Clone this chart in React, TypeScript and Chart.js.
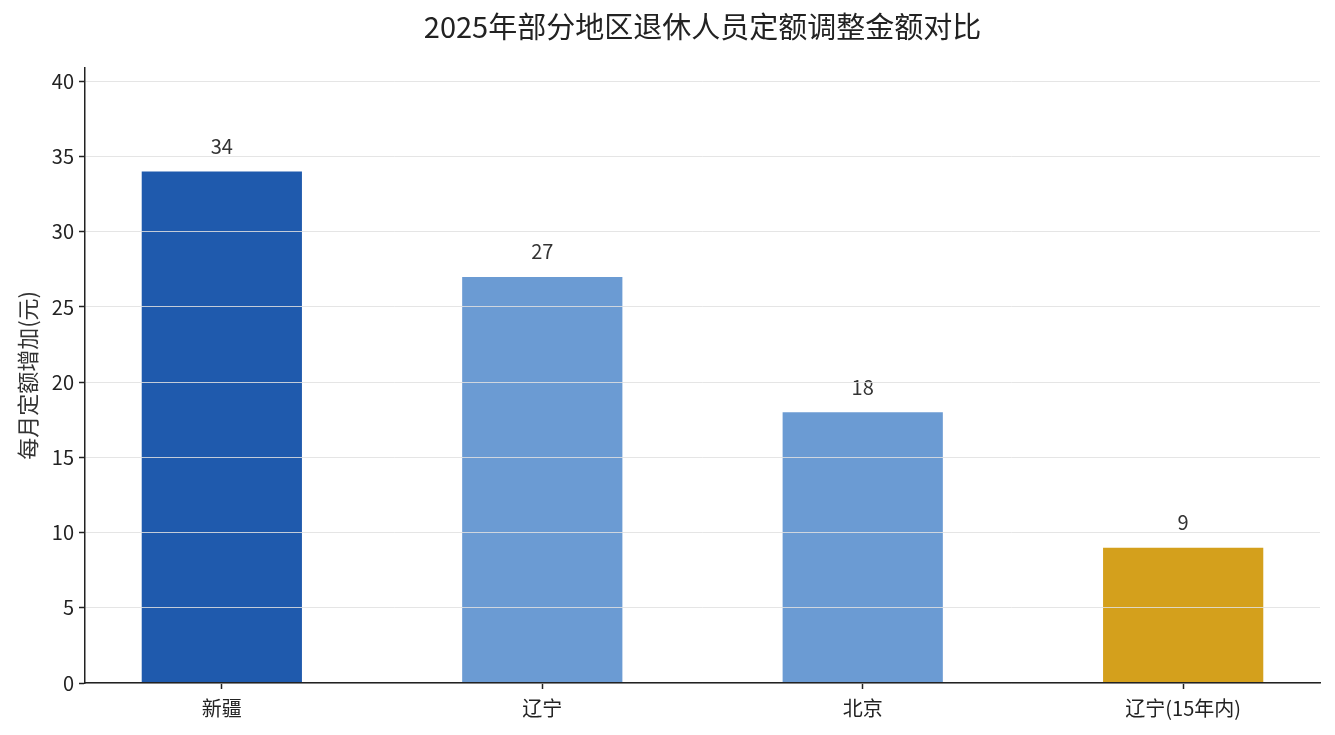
import { useEffect, useRef } from 'react'
import { Chart, registerables } from 'chart.js'

Chart.register(...registerables)

const regions = ['新疆', '辽宁', '北京', '辽宁(15年内)']
const increases = [34, 27, 18, 9]
const barColors = ['#1f5aad', '#6b9bd3', '#6b9bd3', '#d4a01c']
const yTicks = [0, 5, 10, 15, 20, 25, 30, 35, 40]

const FONT = "'Noto Sans CJK SC', 'Noto Sans', sans-serif"

// value labels above each bar
const valueLabels = {
  id: 'valueLabels',
  afterDatasetsDraw(chart: Chart) {
    const ctx = chart.ctx
    const meta = chart.getDatasetMeta(0)
    ctx.save()
    ctx.font = `20px ${FONT}`
    ctx.fillStyle = '#333'
    ctx.textAlign = 'center'
    ctx.textBaseline = 'middle'
    meta.data.forEach((bar: any, i: number) => {
      ctx.fillText(String(increases[i]), bar.x, bar.y - 25)
    })
    ctx.restore()
  },
}

export default function App() {
  const canvasRef = useRef<HTMLCanvasElement | null>(null)
  const chartRef = useRef<Chart | null>(null)

  useEffect(() => {
    const ctx = canvasRef.current?.getContext('2d')
    if (!ctx) return

    chartRef.current = new Chart(ctx, {
      type: 'bar',
      data: {
        datasets: [
          {
            data: increases.map((v, i) => ({ x: i, y: v })),
            backgroundColor: barColors,
            borderWidth: 0,
            barPercentage: 0.5,
            categoryPercentage: 1,
          },
        ],
      },
      options: {
        responsive: false,
        animation: false,
        layout: { padding: { left: 0, right: 15, top: 0, bottom: 0 } },
        plugins: {
          legend: { display: false },
          tooltip: { enabled: false },
          title: {
            display: true,
            fullSize: false,
            text: '2025年部分地区退休人员定额调整金额对比',
            color: '#222',
            font: { family: FONT, size: 29, weight: 'normal' },
            padding: { top: 10, bottom: 23 },
          },
        },
        scales: {
          x: {
            type: 'linear',
            min: -0.427,
            max: 3.427,
            offset: false,
            afterBuildTicks: (axis: any) => {
              axis.ticks = regions.map((_, i) => ({ value: i }))
            },
            afterFit: (scale: any) => {
              scale.height = 52
            },
            ticks: {
              color: '#222',
              font: { family: FONT, size: 20 },
              padding: 7,
              maxRotation: 0,
              callback: (v: any) => regions[v] ?? '',
            },
            grid: {
              display: true,
              offset: false,
              drawOnChartArea: false,
              drawTicks: true,
              tickLength: 6,
              tickColor: '#222',
              tickWidth: 1.5,
            },
            border: { color: '#222', width: 1.5, z: 2 },
          },
          y: {
            min: 0,
            max: 40.9,
            afterBuildTicks: (axis: any) => {
              axis.ticks = yTicks.map((v) => ({ value: v }))
            },
            afterFit: (scale: any) => {
              scale.width = 85
            },
            ticks: {
              color: '#222',
              font: { family: FONT, size: 20 },
              padding: 5,
            },
            grid: {
              z: 1,
              color: 'rgba(225,225,225,0.85)',
              lineWidth: 1,
              drawTicks: true,
              tickLength: 6,
              tickColor: '#222',
              tickWidth: 1.5,
            },
            border: { color: '#222', width: 1.5, z: 2 },
            title: {
              display: true,
              text: '每月定额增加(元)',
              color: '#333',
              font: { family: FONT, size: 22 },
              padding: { top: 14, bottom: 0 },
            },
          },
        },
      },
      plugins: [valueLabels],
    } as any)

    return () => {
      chartRef.current?.destroy()
      chartRef.current = null
    }
  }, [])

  return (
    <div style={{ position: 'fixed', left: 0, top: 0, width: 1335, height: 735, background: '#fff' }}>
      <canvas ref={canvasRef} width={1335} height={735} />
    </div>
  )
}
